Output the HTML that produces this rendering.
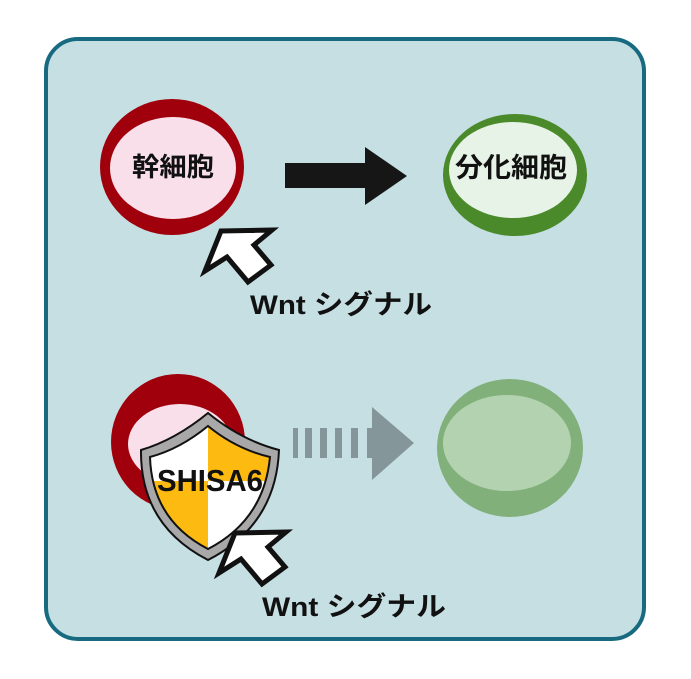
<!DOCTYPE html>
<html><head><meta charset="utf-8"><style>html,body{margin:0;padding:0;background:#fff}svg{display:block}</style></head>
<body>
<svg width="691" height="679" viewBox="0 0 691 679" xmlns="http://www.w3.org/2000/svg" font-family="Liberation Sans, Noto Sans CJK JP, sans-serif" font-weight="bold">
<rect x="46" y="39" width="598" height="600" rx="32" fill="#C5DFE3" stroke="#176A80" stroke-width="4"/>
<ellipse cx="172" cy="167" rx="72" ry="68" fill="#A0000B"/>
<ellipse cx="173" cy="168" rx="63" ry="51" fill="#F8DFEA"/>
<text x="173" y="176" font-size="26" text-anchor="middle" fill="#111" textLength="82" lengthAdjust="spacingAndGlyphs">幹細胞</text>
<polygon points="285,163 365,163 365,147 407,176 365,205 365,188 285,188" fill="#161616"/>
<ellipse cx="515" cy="175" rx="72" ry="61" fill="#4A8A2A"/>
<ellipse cx="513" cy="170" rx="64" ry="48" fill="#E6F3E6"/>
<text x="511" y="177" font-size="27" text-anchor="middle" fill="#111" textLength="112" lengthAdjust="spacingAndGlyphs">分化細胞</text>
<polygon points="221,231 272,230 254,245 271,265 248,282 227,257 205,271" fill="#fff" stroke="#111" stroke-width="5" stroke-linejoin="miter"/>
<text x="250" y="314" font-size="27" fill="#111" textLength="182" lengthAdjust="spacingAndGlyphs">Wnt シグナル</text>
<ellipse cx="178" cy="442" rx="67" ry="68" fill="#A0000B"/>
<ellipse cx="180" cy="444" rx="52" ry="40" fill="#F8DFEA"/>
<path d="M208,413 Q175,440 141,450 Q140,525 208,560 Q276,525 279,450 Q241,440 208,413 Z" fill="#A8A8A8" stroke="#111" stroke-width="2"/>
<clipPath id="sc"><path d="M208,426 Q180,449 150,457 Q152,520 208,549 Q264,520 270,457 Q236,449 208,426 Z"/></clipPath>
<g clip-path="url(#sc)">
<rect x="140" y="420" width="68" height="61" fill="#fff"/>
<rect x="208" y="420" width="70" height="61" fill="#FDBA10"/>
<rect x="140" y="481" width="68" height="80" fill="#FDBA10"/>
<rect x="208" y="481" width="70" height="80" fill="#fff"/>
</g>
<path d="M208,426 Q180,449 150,457 Q152,520 208,549 Q264,520 270,457 Q236,449 208,426 Z" fill="none" stroke="#111" stroke-width="2"/>
<text x="210" y="491" font-size="31" text-anchor="middle" fill="#111" textLength="106" lengthAdjust="spacingAndGlyphs">SHISA6</text>
<polygon points="235,533 286,532 268,547 285,567 262,584 241,559 219,573" fill="#fff" stroke="#111" stroke-width="5"/>
<text x="262" y="616" font-size="27" fill="#111" textLength="184" lengthAdjust="spacingAndGlyphs">Wnt シグナル</text>
<g fill="#84969A">
<rect x="293" y="428" width="5" height="30"/>
<rect x="305" y="428" width="7" height="30"/>
<rect x="320" y="428" width="7" height="30"/>
<rect x="335" y="428" width="7" height="30"/>
<rect x="351" y="428" width="7" height="30"/>
<polygon points="367,428 372,428 372,407 414,443 372,480 372,458 367,458"/>
</g>
<ellipse cx="510" cy="448" rx="73" ry="69" fill="#82B07A"/>
<ellipse cx="507" cy="443" rx="64" ry="48" fill="#B3D3B0"/>
</svg>
</body></html>
